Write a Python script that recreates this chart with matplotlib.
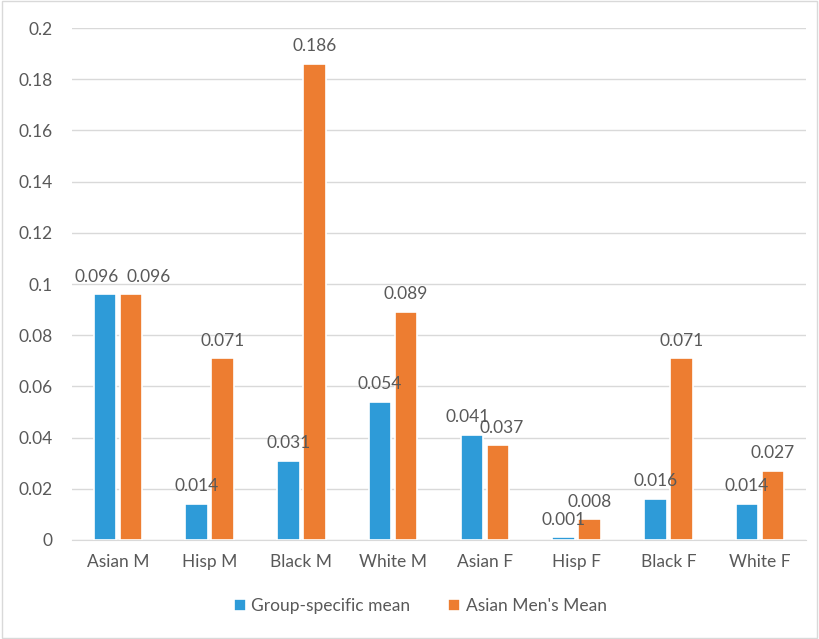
import numpy as np
import matplotlib.pyplot as plt
from matplotlib.patches import Rectangle

groups = ['Asian M', 'Hisp M', 'Black M', 'White M', 'Asian F', 'Hisp F', 'Black F', 'White F']
group_mean = [0.096, 0.014, 0.031, 0.054, 0.041, 0.001, 0.016, 0.014]
asian_men_mean = [0.096, 0.071, 0.186, 0.089, 0.037, 0.008, 0.071, 0.027]
yticks = [0, 0.02, 0.04, 0.06, 0.08, 0.1, 0.12, 0.14, 0.16, 0.18, 0.2]
ytick_labels = ['0', '0.02', '0.04', '0.06', '0.08', '0.1', '0.12', '0.14', '0.16', '0.18', '0.2']

blue = '#2E9BD8'
orange = '#ED7D31'
text_col = '#595959'
plt.rcParams['font.family'] = ['Lato', 'DejaVu Sans']

fig = plt.figure(figsize=(8.19, 6.39), dpi=100)
ax = fig.add_axes([0.088, 0.155, 0.896, 0.801])

x = np.arange(len(groups))
w = 0.245
off = 0.142
b1 = ax.bar(x - off, group_mean, w, color=blue, edgecolor='white', linewidth=1.2,
            label='Group-specific mean', zorder=3)
b2 = ax.bar(x + off, asian_men_mean, w, color=orange, edgecolor='white', linewidth=1.2,
            label="Asian Men's Mean", zorder=3)

# nudge crowded label pairs apart so they sit side by side
nudge = {(0, 0): -6, (1, 0): 13, (0, 4): -3, (1, 4): 3}
for k, (bars, vals) in enumerate(((b1, group_mean), (b2, asian_men_mean))):
    for i, (rect, v) in enumerate(zip(bars, vals)):
        ax.annotate(f'{v:.3f}', (rect.get_x() + rect.get_width() / 2, v),
                    xytext=(nudge.get((k, i), 0), 7), textcoords='offset points',
                    ha='center', va='bottom', fontsize=12.5, color=text_col, zorder=4)

ax.set_xlim(-0.5, len(groups) - 0.5)
ax.set_ylim(0, 0.2)
ax.set_yticks(yticks)
ax.set_yticklabels(ytick_labels)
ax.set_xticks(x)
ax.set_xticklabels(groups)
ax.tick_params(length=0, labelsize=12.5, labelcolor=text_col)
ax.tick_params(axis='y', pad=14)
ax.tick_params(axis='x', pad=10)
ax.grid(axis='y', color='#D9D9D9', linewidth=1, zorder=0)
for s in ['top', 'right', 'left']:
    ax.spines[s].set_visible(False)
ax.spines['bottom'].set_color('#D9D9D9')
ax.spines['bottom'].set_zorder(2)

leg = fig.legend(loc='center', bbox_to_anchor=(0.513, 0.051), ncol=2, frameon=False,
                 fontsize=12.5, handlelength=0.7, handleheight=0.7, columnspacing=2.2,
                 handletextpad=0.3)
for t in leg.get_texts():
    t.set_color(text_col)

fig.patches.append(Rectangle((0.002, 0.002), 0.996, 0.996, transform=fig.transFigure,
                             fill=False, edgecolor='#D9D9D9', linewidth=1))

fig.savefig('out.png', dpi=100, facecolor='white')
